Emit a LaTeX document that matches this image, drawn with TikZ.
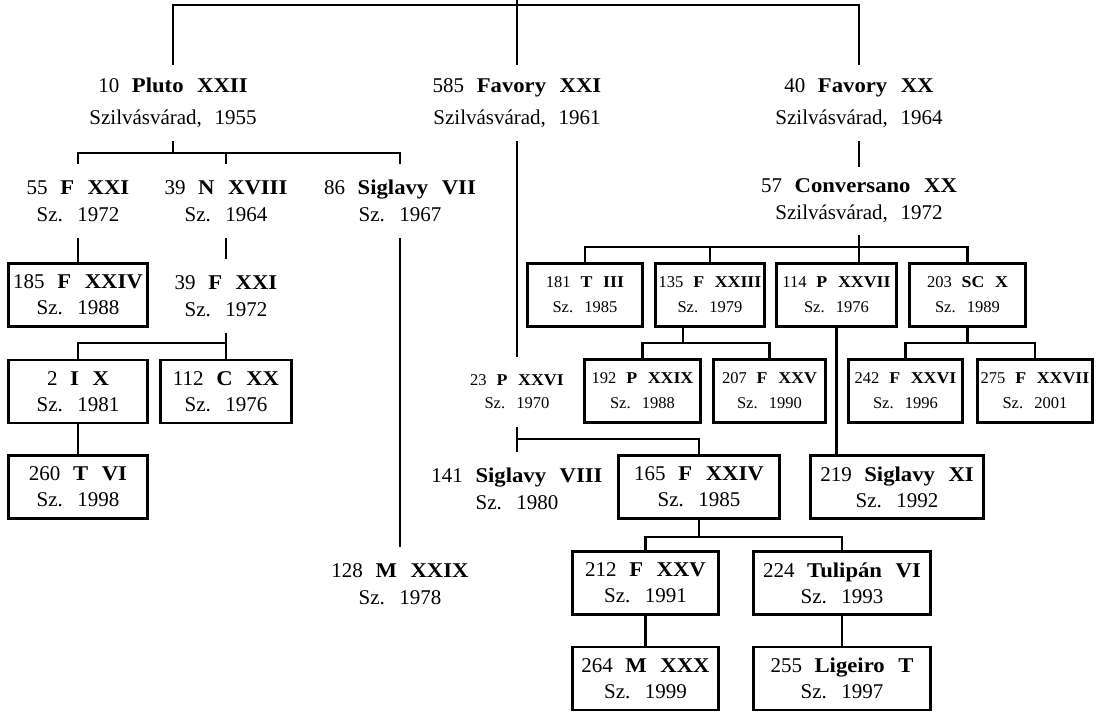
\documentclass[tikz,border=0pt]{standalone}
\usepackage{fontspec}
\setmainfont{Liberation Serif}[WordSpace=2.4, BoldFeatures={FakeStretch=1.08}]
\usetikzlibrary{positioning}
\tikzset{
  gen/.style={align=center, inner xsep=0pt, inner ysep=12pt, font=\fontsize{21}{32}\selectfont},
  kid/.style={align=center, inner xsep=0pt, inner ysep=15pt, font=\fontsize{21}{27}\selectfont},
  kidsm/.style={align=center, inner xsep=0pt, inner ysep=16pt, font=\fontsize{16.5}{23}\selectfont},
  box/.style={draw, align=center, inner sep=0pt, minimum height=63pt, font=\fontsize{21}{26}\selectfont},
  sbox/.style={box, font=\fontsize{16.5}{25}\selectfont}
}

\begin{document}
\begin{tikzpicture}[x=1pt, y=-1pt, line width=2.9pt]
  \useasboundingbox (0,0) rectangle (1104,712);
  \coordinate (root) at (517,0);
  \coordinate (bar) at (517,5);

  \node[gen] (p10) at (173,103) {10 \textbf{Pluto XXII}\\Szilvásvárad, 1955};
  \node[gen] (f585) at (517,103) {585 \textbf{Favory XXI}\\Szilvásvárad, 1961};
  \node[gen] (f40) at (859,103) {40 \textbf{Favory XX}\\Szilvásvárad, 1964};

  \node[kid] (n55) at (78,201) {55 \textbf{F XXI}\\Sz. 1972};
  \node[kid] (n39) at (226,201) {39 \textbf{N XVIII}\\Sz. 1964};
  \node[kid] (s86) at (400,201) {86 \textbf{Siglavy VII}\\Sz. 1967};
  \node[box, minimum width=139pt] (b185) at (78,295) {185 \textbf{F XXIV}\\Sz. 1988};
  \node[kid] (n39b) at (226,296) {39 \textbf{F XXI}\\Sz. 1972};
  \node[box, minimum width=139pt] (b2) at (78,391.5) {2 \textbf{I X}\\Sz. 1981};
  \node[box, minimum width=131pt] (b112) at (226,391.5) {112 \textbf{C XX}\\Sz. 1976};
  \node[box, minimum width=139pt] (b260) at (78,487) {260 \textbf{T VI}\\Sz. 1998};
  \node[kid] (m128) at (400,584) {128 \textbf{M XXIX}\\Sz. 1978};

  \node[kidsm] (p23) at (517,392) {23 \textbf{P XXVI}\\Sz. 1970};
  \node[kid] (s141) at (517,489) {141 \textbf{Siglavy VIII}\\Sz. 1980};
  \node[box, minimum width=161pt] (b165) at (699,487) {165 \textbf{F XXIV}\\Sz. 1985};
  \node[box, minimum width=146pt] (b212) at (645.5,583) {212 \textbf{F XXV}\\Sz. 1991};
  \node[box, minimum width=177pt] (b224) at (842,583) {224 \textbf{Tulipán VI}\\Sz. 1993};
  \node[box, minimum width=146pt] (b264) at (645.5,678.5) {264 \textbf{M XXX}\\Sz. 1999};
  \node[box, minimum width=177pt] (b255) at (842,678.5) {255 \textbf{Ligeiro T}\\Sz. 1997};

  \node[kid, inner ysep=10pt] (c57) at (859,201) {57 \textbf{Conversano XX}\\Szilvásvárad, 1972};
  \node[sbox, minimum width=115pt] (b181) at (585,295) {181 \textbf{T III}\\Sz. 1985};
  \node[sbox, minimum width=109pt] (b135) at (710,295) {135 \textbf{F XXIII}\\Sz. 1979};
  \node[sbox, minimum width=120pt] (b114) at (836.5,295) {114 \textbf{P XXVII}\\Sz. 1976};
  \node[sbox, minimum width=116pt] (b203) at (967.5,295) {203 \textbf{SC X}\\Sz. 1989};
  \node[sbox, minimum width=116pt] (b192) at (642.5,391) {192 \textbf{P XXIX}\\Sz. 1988};
  \node[sbox, minimum width=112pt] (b207) at (769.5,391) {207 \textbf{F XXV}\\Sz. 1990};
  \node[sbox, minimum width=114pt] (b242) at (905.5,391) {242 \textbf{F XXVI}\\Sz. 1996};
  \node[sbox, minimum width=115pt] (b275) at (1035,391) {275 \textbf{F XXVII}\\Sz. 2001};
  \node[box, minimum width=173pt] (b219) at (897,487) {219 \textbf{Siglavy XI}\\Sz. 1992};

  \coordinate (j10) at (173,153);
  \coordinate (j39) at (226,343);
  \coordinate (jc57) at (858,247);
  \coordinate (j135) at (683,343);
  \coordinate (j203) at (967.5,343);
  \coordinate (j23) at (517,439);
  \coordinate (j165) at (699,537);

  \draw (root) -- (f585.north);
  \draw (p10.north) |- (bar) -| (f40.north);

  \draw (p10.south) -- (j10);
  \draw (n55.north) |- (j10) -| (s86.north);
  \draw (n39.north) -- (n39.north |- j10);
  \draw (n55.south) -- (b185.north);
  \draw (n39.south) -- (n39b.north);
  \draw (s86.south) -- (m128.north);
  \draw (n39b.south) -- (b112.north);
  \draw (b2.north) |- (j39);
  \draw (b2.south) -- (b260.north);

  \draw (f585.south) -- (p23.north);
  \draw (p23.south) -- (s141.north);
  \draw (j23) -| (b165.north);
  \draw (b165.south) -- (j165);
  \draw (b212.north) |- (j165) -| (b224.north);
  \draw (b212.south) -- (b264.north);
  \draw (b224.south) -- (b255.north);

  \draw (f40.south) -- (c57.north);
  \draw (c57.south) -- (c57.south |- b114.north);
  \draw (b181.north) |- (jc57) -| (b203.north);
  \draw (b135.north) -- (b135.north |- jc57);
  \draw (b135.south -| j135) -- (j135);
  \draw (b192.north) |- (j135) -| (b207.north);
  \draw (b203.south) -- (j203);
  \draw (b242.north) |- (j203) -| (b275.north);
  \draw (b114.south) -- (b114.south |- b219.north);
\end{tikzpicture}
\end{document}
